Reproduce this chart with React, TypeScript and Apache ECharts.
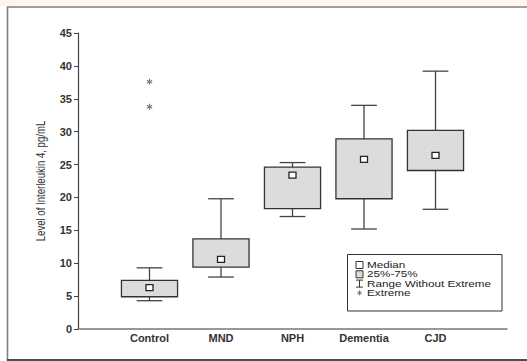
import React, { useEffect, useRef } from "react";
import * as echarts from "echarts";

// ---- data ----
const categories = ["", "Control", "MND", "NPH", "Dementia", "CJD", ""];
const groups = ["Control", "MND", "NPH", "Dementia", "CJD"];
const whiskerLow = [4.3, 7.9, 17.1, 15.2, 18.2];
const q1 = [4.9, 9.4, 18.3, 19.8, 24.1];
const median = [6.3, 10.6, 23.4, 25.8, 26.4];
const q3 = [7.4, 13.7, 24.6, 28.9, 30.2];
const whiskerHigh = [9.3, 19.8, 25.3, 34.0, 39.2];
const extremeGroups = ["Control", "Control"];
const extremeValues = [37.6, 33.8];
const yMin = 0;
const yMax = 45;
const yInterval = 5;
const yAxisTitle = "Level of Interleukin 4, pg/mL";
const legendLabels = ["Median", "25%-75%", "Range Without Extreme", "Extreme"];

const FONT = "'Liberation Sans', Arial, Helvetica, sans-serif";
const BOX_FILL = "#dcdcdc";

function asteriskLines(cx: number, cy: number, r: number, color: string, w = 1) {
  const out: any[] = [];
  const angles = [90, 30, -30];
  for (const a of angles) {
    const rad = (a * Math.PI) / 180;
    const dx = Math.cos(rad) * r;
    const dy = Math.sin(rad) * r;
    out.push({
      type: "line",
      shape: { x1: cx - dx, y1: cy - dy, x2: cx + dx, y2: cy + dy },
      style: { stroke: color, lineWidth: w },
    });
  }
  return out;
}

export default function App() {
  const ref = useRef<HTMLDivElement>(null);

  useEffect(() => {
    if (!ref.current) return;
    const chart = echarts.init(ref.current, null, { renderer: "svg" });

    const boxData = groups.map((g, i) => [
      g,
      whiskerLow[i],
      q1[i],
      median[i],
      q3[i],
      whiskerHigh[i],
    ]);
    const extremeData = extremeGroups.map((g, i) => [g, extremeValues[i]]);

    // legend graphics
    const lx = 356;
    const rowsY = [265, 274.3, 283.6, 292.9];
    const legendGraphics: any[] = [
      {
        type: "rect",
        shape: { x: 347.5, y: 254.5, width: 154.5, height: 56.5 },
        style: { fill: "#fff", stroke: "#333", lineWidth: 1 },
      },
      {
        type: "rect",
        shape: { x: lx, y: rowsY[0] - 3.5, width: 7, height: 7 },
        style: { fill: "#fff", stroke: "#333", lineWidth: 1 },
      },
      {
        type: "rect",
        shape: { x: lx, y: rowsY[1] - 3.5, width: 7, height: 7 },
        style: { fill: BOX_FILL, stroke: "#333", lineWidth: 1 },
      },
      {
        type: "line",
        shape: { x1: lx, y1: rowsY[2] - 3.5, x2: lx + 7, y2: rowsY[2] - 3.5 },
        style: { stroke: "#333", lineWidth: 1 },
      },
      {
        type: "line",
        shape: { x1: lx, y1: rowsY[2] + 3.5, x2: lx + 7, y2: rowsY[2] + 3.5 },
        style: { stroke: "#333", lineWidth: 1 },
      },
      {
        type: "line",
        shape: { x1: lx + 3.5, y1: rowsY[2] - 3.5, x2: lx + 3.5, y2: rowsY[2] + 3.5 },
        style: { stroke: "#333", lineWidth: 1 },
      },
      ...asteriskLines(lx + 3.5, rowsY[3], 2.5, "#777"),
      ...legendLabels.map((t, i) => ({
        type: "text",
        x: 367,
        y: rowsY[i],
        scaleX: 1.3,
        style: {
          text: t,
          fill: "#222",
          font: `9px ${FONT}`,
          textVerticalAlign: "middle",
          textAlign: "left",
        },
      })),
    ];

    chart.setOption({
      animation: false,
      backgroundColor: "#fff",
      grid: {
        left: 78,
        right: 20,
        top: 33,
        bottom: 32,
        containLabel: false,
        outerBoundsMode: "none",
      },
      xAxis: {
        type: "category",
        data: categories,
        boundaryGap: false,
        axisLine: { lineStyle: { color: "#777", width: 1.5 } },
        axisTick: { show: false },
        splitLine: { show: false },
        axisLabel: {
          interval: 0,
          margin: 3,
          color: "#333",
          fontSize: 11,
          fontWeight: "bold",
          fontFamily: FONT,
        },
      },
      yAxis: {
        type: "value",
        min: yMin,
        max: yMax,
        interval: yInterval,
        axisLine: { show: true, lineStyle: { color: "#444", width: 1.2 } },
        axisTick: { show: true, length: 4, lineStyle: { color: "#444" } },
        splitLine: { show: false },
        axisLabel: {
          margin: 6,
          color: "#333",
          fontSize: 11,
          fontWeight: "bold",
          fontFamily: FONT,
        },
      },
      series: [
        {
          type: "custom",
          name: "box",
          data: boxData,
          encode: { x: 0, y: [1, 2, 3, 4, 5] },
          renderItem: (params: any, api: any) => {
            const xi = api.value(0);
            const pLow = api.coord([xi, api.value(1)]);
            const pQ1 = api.coord([xi, api.value(2)]);
            const pMed = api.coord([xi, api.value(3)]);
            const pQ3 = api.coord([xi, api.value(4)]);
            const pHigh = api.coord([xi, api.value(5)]);
            const band = api.size([1, 0])[0];
            const cx = pMed[0];
            const bw = band * 0.785;
            const cw = band * 0.36;
            const ws = { stroke: "#444", lineWidth: 1.3 };
            return {
              type: "group",
              children: [
                { type: "line", shape: { x1: cx, y1: pHigh[1], x2: cx, y2: pQ3[1] }, style: ws },
                { type: "line", shape: { x1: cx, y1: pQ1[1], x2: cx, y2: pLow[1] }, style: ws },
                { type: "line", shape: { x1: cx - cw / 2, y1: pHigh[1], x2: cx + cw / 2, y2: pHigh[1] }, style: ws },
                { type: "line", shape: { x1: cx - cw / 2, y1: pLow[1], x2: cx + cw / 2, y2: pLow[1] }, style: ws },
                {
                  type: "rect",
                  shape: { x: cx - bw / 2, y: pQ3[1], width: bw, height: pQ1[1] - pQ3[1] },
                  style: { fill: BOX_FILL, stroke: "#333", lineWidth: 1.3 },
                },
                {
                  type: "rect",
                  shape: { x: cx - 3.5, y: pMed[1] - 3, width: 7, height: 6 },
                  style: { fill: "#fff", stroke: "#222", lineWidth: 1.3 },
                },
              ],
            };
          },
        },
        {
          type: "custom",
          name: "extreme",
          data: extremeData,
          encode: { x: 0, y: 1 },
          renderItem: (params: any, api: any) => {
            const p = api.coord([api.value(0), api.value(1)]);
            return { type: "group", children: asteriskLines(p[0], p[1], 3, "#777", 1.1) };
          },
        },
      ],
      graphic: [
        {
          type: "rect",
          silent: true,
          shape: { x: 0, y: 0, width: 527, height: 6 },
          style: { fill: "#fdf5ef" },
          z: -1,
        },
        {
          type: "rect",
          silent: true,
          shape: { x: 7.5, y: 7, width: 540, height: 353 },
          style: { fill: "none", stroke: "#808080", lineWidth: 1.6 },
        },
        {
          type: "line",
          silent: true,
          shape: { x1: 7, y1: 360, x2: 527, y2: 360 },
          style: { stroke: "#333", lineWidth: 1.5 },
        },
        {
          type: "text",
          silent: true,
          x: 41,
          y: 181,
          rotation: Math.PI / 2,
          scaleX: 0.8,
          style: {
            text: yAxisTitle,
            fill: "#333",
            font: `12px ${FONT}`,
            textAlign: "center",
            textVerticalAlign: "middle",
          },
        },
        ...legendGraphics,
      ],
    });

    return () => chart.dispose();
  }, []);

  return (
    <div
      ref={ref}
      style={{ position: "fixed", left: 0, top: 0, width: 527, height: 361 }}
    />
  );
}
